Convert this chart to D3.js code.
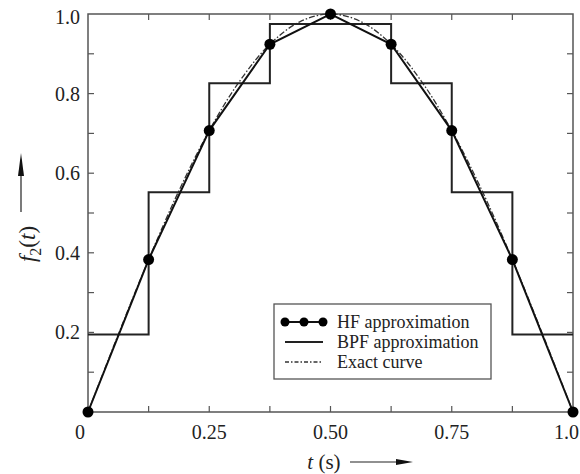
<!DOCTYPE html>
<html><head><meta charset="utf-8">
<script src="https://cdn.jsdelivr.net/npm/d3@7/dist/d3.min.js"></script>
<style>body{margin:0;background:#fff}svg{display:block}text{font-family:"Liberation Serif","Times New Roman",serif;fill:#222}</style>
</head><body>
<script>
// Data
const hfT = [0, 0.125, 0.25, 0.375, 0.5, 0.625, 0.75, 0.875, 1.0];
const hfValues = [0, 0.383, 0.707, 0.924, 1.0, 0.924, 0.707, 0.383, 0];
const bpfEdges = [0, 0.125, 0.25, 0.375, 0.5, 0.625, 0.75, 0.875, 1.0];
const bpfValues = [0.195, 0.552, 0.826, 0.975, 0.975, 0.826, 0.552, 0.195];
const exactT = [0, 0.0625, 0.125, 0.1875, 0.25, 0.3125, 0.375, 0.4375, 0.5, 0.5625, 0.625, 0.6875, 0.75, 0.8125, 0.875, 0.9375, 1.0];
const exactValues = [0, 0.195, 0.383, 0.556, 0.707, 0.831, 0.924, 0.981, 1.0, 0.981, 0.924, 0.831, 0.707, 0.556, 0.383, 0.195, 0];
const xTickLabels = ["0", "0.25", "0.50", "0.75", "1.0"];
const xTickLabelVals = [0, 0.25, 0.5, 0.75, 1.0];
const yTickLabels = ["0.2", "0.4", "0.6", "0.8", "1.0"];
const yTickLabelVals = [0.2, 0.4, 0.6, 0.8, 1.0];
const xMinorTicks = [0.125, 0.25, 0.375, 0.5, 0.625, 0.75, 0.875];
const yMinorTicks = [0.1, 0.2, 0.3, 0.4, 0.5, 0.6, 0.7, 0.8, 0.9];
const legendLabels = ["HF approximation", "BPF approximation", "Exact curve"];

const W = 580, H = 474;
const m = {l: 88, r: 7, t: 14, b: 62};
const svg = d3.select("body").append("svg").attr("width", W).attr("height", H);
const x = d3.scaleLinear().domain([0, 1]).range([m.l, W - m.r]);
const y = d3.scaleLinear().domain([0, 1]).range([H - m.b, m.t]);
const axisColor = "#555";

// frame
svg.append("rect").attr("x", x(0)).attr("y", y(1)).attr("width", x(1) - x(0)).attr("height", y(0) - y(1))
  .attr("fill", "none").attr("stroke", axisColor).attr("stroke-width", 1.5);

// inward ticks
const tl = 6;
const g = svg.append("g").attr("stroke", axisColor).attr("stroke-width", 1.2);
xMinorTicks.forEach(v => {
  g.append("line").attr("x1", x(v)).attr("x2", x(v)).attr("y1", y(0)).attr("y2", y(0) - tl);
  g.append("line").attr("x1", x(v)).attr("x2", x(v)).attr("y1", y(1)).attr("y2", y(1) + tl);
});
yMinorTicks.forEach(v => {
  g.append("line").attr("x1", x(0)).attr("x2", x(0) + tl).attr("y1", y(v)).attr("y2", y(v));
  g.append("line").attr("x1", x(1)).attr("x2", x(1) - tl).attr("y1", y(v)).attr("y2", y(v));
});

// tick labels
xTickLabels.forEach((s, i) => {
  const v = xTickLabelVals[i];
  const t = svg.append("text").attr("y", y(0) + 27).attr("font-size", 20).text(s);
  if (v === 0) t.attr("x", x(0) - 8).attr("text-anchor", "middle");
  else if (v === 1) t.attr("x", W - 1).attr("text-anchor", "end");
  else t.attr("x", x(v)).attr("text-anchor", "middle");
});
yTickLabels.forEach((s, i) => {
  const v = yTickLabelVals[i];
  svg.append("text").attr("x", x(0) - 8).attr("y", (v === 1 ? y(v) + 3 : y(v)) + 7)
    .attr("text-anchor", "end").attr("font-size", 20).text(s);
});

// exact curve
svg.append("path").datum(exactT.map((t, i) => [t, exactValues[i]]))
  .attr("d", d3.line().x(d => x(d[0])).y(d => y(d[1])).curve(d3.curveCatmullRom))
  .attr("fill", "none").attr("stroke", "#333").attr("stroke-width", 1.3).attr("stroke-dasharray", "6,2,1.5,2");

// BPF staircase
const bpfPts = [];
bpfValues.forEach((v, i) => { bpfPts.push([bpfEdges[i], v]); bpfPts.push([bpfEdges[i + 1], v]); });
svg.append("path").datum(bpfPts)
  .attr("d", d3.line().x(d => x(d[0])).y(d => y(d[1])))
  .attr("fill", "none").attr("stroke", "#222").attr("stroke-width", 2);

// HF
svg.append("path").datum(hfT.map((t, i) => [t, hfValues[i]]))
  .attr("d", d3.line().x(d => x(d[0])).y(d => y(d[1])))
  .attr("fill", "none").attr("stroke", "#111").attr("stroke-width", 2);
svg.selectAll("circle.hf").data(hfT).enter().append("circle")
  .attr("cx", d => x(d)).attr("cy", (d, i) => y(hfValues[i])).attr("r", 5.5).attr("fill", "#000");

// legend
const lg = svg.append("g");
lg.append("rect").attr("x", 274).attr("y", 304).attr("width", 217).attr("height", 75)
  .attr("fill", "#fff").attr("stroke", axisColor).attr("stroke-width", 1.3);
const rows = [322, 342, 362];
lg.append("line").attr("x1", 285).attr("x2", 323).attr("y1", rows[0]).attr("y2", rows[0]).attr("stroke", "#111").attr("stroke-width", 2);
[285, 304, 323].forEach(cx => lg.append("circle").attr("cx", cx).attr("cy", rows[0]).attr("r", 4.5).attr("fill", "#000"));
lg.append("line").attr("x1", 285).attr("x2", 323).attr("y1", rows[1]).attr("y2", rows[1]).attr("stroke", "#222").attr("stroke-width", 2);
lg.append("line").attr("x1", 285).attr("x2", 323).attr("y1", rows[2]).attr("y2", rows[2]).attr("stroke", "#333").attr("stroke-width", 1.3).attr("stroke-dasharray", "4,2,1.5,2");
legendLabels.forEach((s, i) => lg.append("text").attr("x", 337).attr("y", rows[i] + 6).attr("font-size", 18).text(s));

// x title
const xt = svg.append("text").attr("x", 324).attr("y", 469).attr("text-anchor", "middle").attr("font-size", 21);
xt.append("tspan").attr("font-style", "italic").text("t");
xt.append("tspan").text(" (s)");
svg.append("line").attr("x1", 350).attr("x2", 400).attr("y1", 462).attr("y2", 462).attr("stroke", "#222").attr("stroke-width", 1.2);
svg.append("path").attr("d", "M396,459 L413,462 L396,465 Z").attr("fill", "#111");

// y title
const yt = svg.append("text").attr("transform", "translate(35,244) rotate(-90)").attr("text-anchor", "middle").attr("font-size", 23);
yt.append("tspan").attr("font-style", "italic").text("f");
yt.append("tspan").attr("font-size", 16).attr("dy", 6).text("2");
yt.append("tspan").attr("dy", -6).text("(");
yt.append("tspan").attr("font-style", "italic").text("t");
yt.append("tspan").text(")");
svg.append("line").attr("x1", 21).attr("x2", 21).attr("y1", 212).attr("y2", 170).attr("stroke", "#222").attr("stroke-width", 1.2);
svg.append("path").attr("d", "M18,176 L21,153 L24,176 Z").attr("fill", "#111");
</script>
</body></html>
